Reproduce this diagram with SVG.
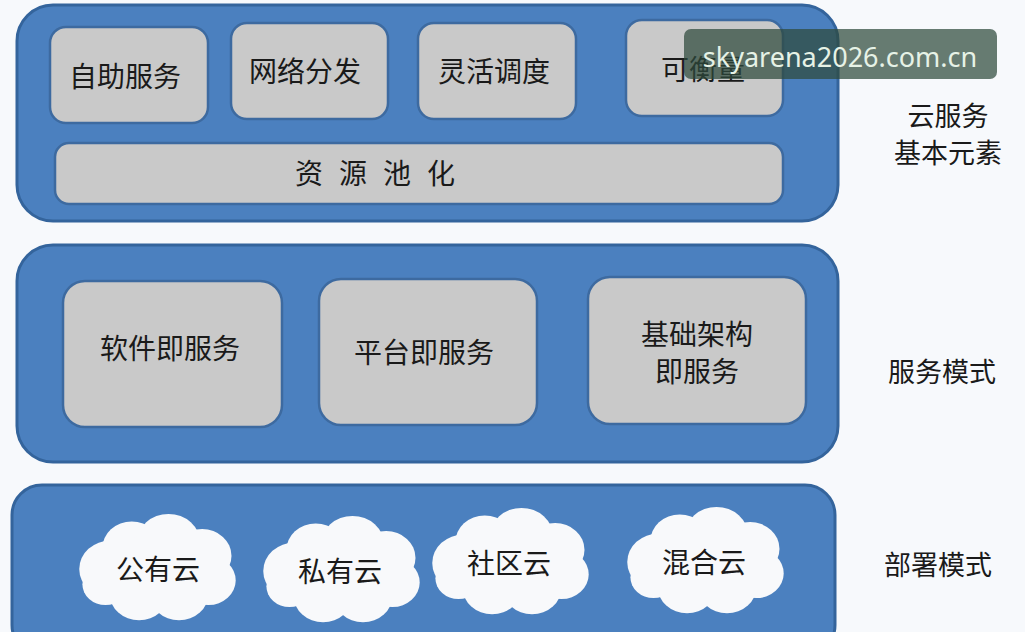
<svg xmlns="http://www.w3.org/2000/svg" width="1025" height="632" viewBox="0 0 1025 632">
<style>
.panel{fill:#4b80bf;stroke:#34649c;stroke-width:3}
.box{fill:#c9c9c9;stroke:#3d6aa0;stroke-width:2.5}
.t{font-family:"Noto Sans CJK SC","Noto Sans",sans-serif;font-size:28px;fill:#1a1a1a;text-anchor:middle}
.r{font-size:27px}
.cloud{fill:#f8f9fb}
</style>
<defs>
<g id="cl">
<circle cx="-45" cy="0" r="30"/><circle cx="-25" cy="-22" r="28"/><circle cx="10" cy="-28" r="30"/><circle cx="42" cy="-14" r="28"/><circle cx="48" cy="12" r="26"/><circle cx="20" cy="26" r="28"/><circle cx="-18" cy="26" r="28"/><circle cx="-50" cy="16" r="22"/><circle cx="0" cy="0" r="40"/>
</g>
</defs>
<rect width="1025" height="632" fill="#f7f9fc"/>
<g id="layer1">
<rect class="panel" x="17" y="5" width="821" height="216" rx="36"/>
<g id="n1"><rect class="box" x="50" y="27" width="158" height="96" rx="16"/><text class="t" x="125" y="87">自助服务</text></g>
<g id="n2"><rect class="box" x="231" y="23" width="157" height="96" rx="16"/><text class="t" x="305" y="82">网络分发</text></g>
<g id="n3"><rect class="box" x="418" y="23" width="158" height="96" rx="16"/><text class="t" x="494" y="82">灵活调度</text></g>
<g id="n4"><rect class="box" x="626" y="20" width="157" height="96" rx="16"/><text class="t" x="703" y="80">可衡量</text></g>
<g id="n5"><rect class="box" x="55" y="143" width="728" height="61" rx="14"/><text class="t" x="383" y="184" letter-spacing="16">资源池化</text></g>
</g>
<g id="layer2">
<rect class="panel" x="17" y="245" width="821" height="217" rx="36"/>
<g id="n6"><rect class="box" x="63" y="281" width="219" height="146" rx="22"/><text class="t" x="170" y="359">软件即服务</text></g>
<g id="n7"><rect class="box" x="319" y="279" width="218" height="146" rx="22"/><text class="t" x="424" y="363">平台即服务</text></g>
<g id="n8"><rect class="box" x="588" y="277" width="218" height="147" rx="22"/><text class="t" x="697" y="345">基础架构</text><text class="t" x="697" y="382">即服务</text></g>
</g>
<g id="layer3">
<rect class="panel" x="12" y="485" width="823" height="170" rx="30"/>
<g id="c1"><use href="#cl" class="cloud" transform="translate(158,569) scale(1.05,0.95)"/><text class="t" x="158" y="580">公有云</text></g>
<g id="c2"><use href="#cl" class="cloud" transform="translate(342,571) scale(1.05,0.95)"/><text class="t" x="340" y="582">私有云</text></g>
<g id="c3"><use href="#cl" class="cloud" transform="translate(511,563) scale(1.05,0.95)"/><text class="t" x="509" y="574">社区云</text></g>
<g id="c4"><use href="#cl" class="cloud" transform="translate(706,562) scale(1.05,0.95)"/><text class="t" x="704" y="573">混合云</text></g>
</g>
<g id="labels">
<text class="t r" x="948" y="126">云服务</text>
<text class="t r" x="948" y="163">基本元素</text>
<text class="t r" x="942" y="382">服务模式</text>
<text class="t r" x="938" y="575">部署模式</text>
</g>
<g id="connectors"></g>
<g id="watermark">
<rect x="684" y="29" width="313" height="50" rx="7" fill="#2e4a3c" fill-opacity="0.72"/>
<text x="840" y="67" font-family="'Noto Sans',sans-serif" font-size="27" fill="#e6f2e6" text-anchor="middle">skyarena2026.com.cn</text>
</g>
</svg>
